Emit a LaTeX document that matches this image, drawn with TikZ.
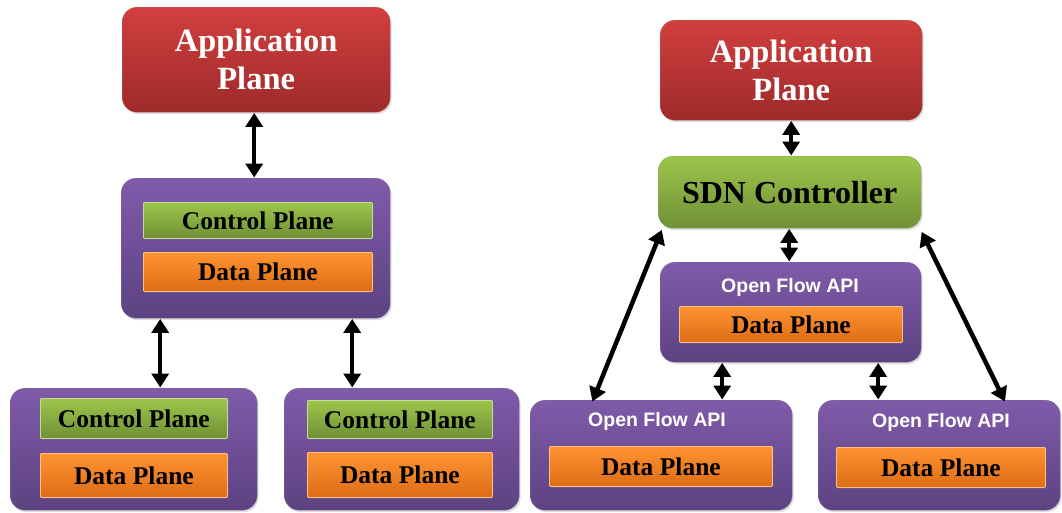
\documentclass[tikz,border=0pt]{standalone}
\usepackage{fontspec}
\setmainfont{Liberation Serif}
\setsansfont{Liberation Sans}
\usetikzlibrary{arrows.meta,shadows}

\definecolor{redtop}{HTML}{D23F3F}
\definecolor{redbot}{HTML}{9E2A2A}
\definecolor{purtop}{HTML}{7F5BAA}
\definecolor{purbot}{HTML}{5D4281}
\definecolor{grntop}{HTML}{9DC54B}
\definecolor{grnbot}{HTML}{6F9036}
\definecolor{orgtop}{HTML}{FF9432}
\definecolor{orgbot}{HTML}{DD6C16}

\tikzset{
  box/.style={anchor=north west, inner sep=0pt, rounded corners=15pt,
    drop shadow={opacity=0.25, shadow xshift=1.5pt, shadow yshift=-2pt}},
  appbox/.style={box, top color=redtop, bottom color=redbot, draw=redbot!80,
    text=white, align=center, font=\bfseries\fontsize{32.5}{38}\selectfont},
  sdnbox/.style={box, top color=grntop, bottom color=grnbot, draw=grnbot!80,
    font=\bfseries\fontsize{32}{36}\selectfont},
  purbox/.style={box, top color=purtop, bottom color=purbot, draw=purbot!80},
  ctlbox/.style={anchor=north west, inner sep=0pt, rounded corners=1pt,
    top color=grntop, bottom color=grnbot, draw=grntop!60!white, line width=0.8pt,
    drop shadow={opacity=0.25, shadow xshift=1pt, shadow yshift=-1.5pt},
    font=\bfseries\fontsize{25.5}{27}\selectfont},
  databox/.style={anchor=north west, inner sep=0pt, rounded corners=1pt,
    top color=orgtop, bottom color=orgbot, draw=orgtop!60!white, line width=0.8pt,
    drop shadow={opacity=0.25, shadow xshift=1pt, shadow yshift=-1.5pt},
    font=\bfseries\fontsize{25.5}{27}\selectfont},
  apilabel/.style={text=white, inner sep=0pt,
    font=\sffamily\bfseries\fontsize{19.5}{21}\selectfont},
  biarrow/.style={line width=4.5pt, {Triangle[length=14pt,width=17pt]}-{Triangle[length=14pt,width=17pt]}, shorten <=0.5pt, shorten >=0.5pt}
}

\begin{document}
\begin{tikzpicture}[x=1pt,y=-1pt]
\useasboundingbox (0,0) rectangle (1062,512);

% ---------- traditional network ----------
\node[appbox, minimum width=268pt, minimum height=105pt] (appL) at (122,7) {Application\\Plane};

\node[purbox, minimum width=269pt, minimum height=140pt] (swL) at (121,178) {};
\node[ctlbox, minimum width=229pt, minimum height=36pt] (cpL) at (143,202) {Control Plane};
\node[databox, minimum width=229pt, minimum height=39pt] (dpL) at (143,252) {Data Plane};

\node[purbox, minimum width=247pt, minimum height=122pt] (swA) at (10,388) {};
\node[ctlbox, minimum width=187pt, minimum height=40pt] (cpA) at (40,398) {Control Plane};
\node[databox, minimum width=187pt, minimum height=44pt] (dpA) at (40,453) {Data Plane};

\node[purbox, minimum width=235pt, minimum height=122pt] (swB) at (284,388) {};
\node[ctlbox, minimum width=185pt, minimum height=38pt] (cpB) at (307,400) {Control Plane};
\node[databox, minimum width=185pt, minimum height=45pt] (dpB) at (307,452) {Data Plane};

\draw[biarrow] ([xshift=-2pt]appL.south) -- ([xshift=-1.5pt]swL.north);
\draw[biarrow] ([xshift=-95.5pt]swL.south) -- ([xshift=-95.5pt]swL.south |- swA.north);
\draw[biarrow] ([xshift=96.5pt]swL.south) -- ([xshift=96.5pt]swL.south |- swB.north);

% ---------- SDN ----------
\node[appbox, minimum width=262pt, minimum height=100pt] (appR) at (660,20) {Application\\Plane};
\node[sdnbox, minimum width=263pt, minimum height=72pt] (sdn) at (658,156) {SDN Controller};

\node[purbox, minimum width=261pt, minimum height=100pt] (ofM) at (660,262) {};
\node[apilabel] (apiM) at (790,287) {Open Flow API};
\node[databox, minimum width=223pt, minimum height=36pt] (dpM) at (679,306) {Data Plane};

\node[purbox, minimum width=262pt, minimum height=110pt] (ofL) at (530,400) {};
\node[apilabel] (apiL) at (657,421) {Open Flow API};
\node[databox, minimum width=223pt, minimum height=40pt] (dpRL) at (549,446) {Data Plane};

\node[purbox, minimum width=242pt, minimum height=110pt] (ofR) at (818,400) {};
\node[apilabel] (apiR) at (941,422) {Open Flow API};
\node[databox, minimum width=209pt, minimum height=40pt] (dpRR) at (836,447) {Data Plane};

\draw[biarrow] (appR.south) -- (appR.south |- sdn.north);
\draw[biarrow] ([xshift=-0.5pt]sdn.south) -- ([xshift=-0.5pt]sdn.south |- ofM.north);
\draw[biarrow] ([xshift=-68.5pt]ofM.south) -- ([xshift=-68.5pt]ofM.south |- ofL.north);
\draw[biarrow] ([xshift=87.5pt]ofM.south) -- ([xshift=87.5pt]ofM.south |- ofR.north);
\draw[biarrow] ([xshift=-69pt,yshift=-2pt]ofL.north) -- ([xshift=4pt,yshift=-1pt]sdn.south west);
\draw[biarrow] ([xshift=66pt,yshift=-2pt]ofR.north) -- ([xshift=0pt,yshift=-3pt]sdn.south east);
\end{tikzpicture}
\end{document}
